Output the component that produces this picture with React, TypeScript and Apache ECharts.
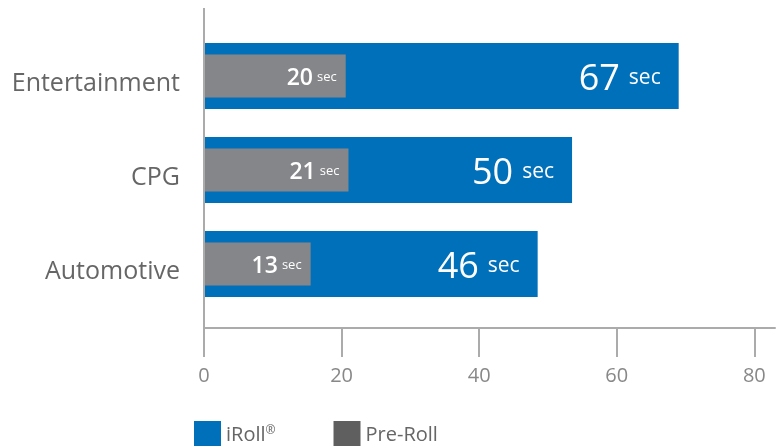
import React, { useEffect, useRef } from "react";
import * as echarts from "echarts";

const categories = ["Entertainment", "CPG", "Automotive"];
const iRollValues = [69, 53.5, 48.5];
const preRollValues = [20.6, 21, 15.5];
const iRollLabels = [67, 50, 46];
const preRollLabels = [20, 21, 13];
const xTicks = [0, 20, 40, 60, 80];

const FONT = "'Open Sans', sans-serif";
const BLUE = "#0070BA";
const GRAY = "#858689";
const AXIS = "#ababab";
const TEXT = "#666666";

export default function App() {
  const ref = useRef<HTMLDivElement>(null);
  useEffect(() => {
    if (!ref.current) return;
    const chart = echarts.init(ref.current, undefined, { renderer: "svg" });
    chart.setOption({
      animation: false,
      textStyle: { fontFamily: FONT },
      grid: { left: 204, right: 9, top: 29, bottom: 135, containLabel: false, outerBoundsMode: "none" },
      xAxis: {
        type: "value",
        min: 0,
        max: 83,
        interval: 20,
        offset: 17,
        splitLine: { show: false },
        axisLine: { show: true, lineStyle: { color: AXIS, width: 2 } },
        axisTick: { show: true, length: 29, customValues: xTicks, lineStyle: { color: AXIS, width: 2 } },
        axisLabel: { customValues: xTicks, margin: 36, color: "#888888", fontSize: 20, fontFamily: FONT },
      },
      yAxis: [
        {
          type: "category",
          inverse: true,
          data: categories,
          axisLine: { show: false },
          axisTick: { show: false },
          axisLabel: {
            margin: 24,
            color: TEXT,
            fontSize: 25,
            fontFamily: FONT,
            formatter: (v: string) => `{c|${v}}`,
            rich: { c: { fontSize: 25, color: TEXT, fontFamily: FONT, padding: [9, 0, 0, 0] } },
          },
        },
        {
          type: "category",
          inverse: true,
          data: categories,
          show: false,
        },
      ],
      legend: {
        left: 194,
        top: 421,
        padding: 0,
        itemWidth: 27,
        itemHeight: 25,
        itemGap: 58,
        icon: "rect",
        textStyle: {
          color: TEXT,
          fontSize: 20,
          fontFamily: FONT,
          rich: { sup: { fontSize: 12, verticalAlign: "top", padding: [0, 0, 9, 0], color: TEXT } },
        },
        formatter: (name: string) => (name === "iRoll" ? "iRoll{sup|®}" : name),
        data: [
          { name: "iRoll", itemStyle: { color: BLUE } },
          { name: "Pre-Roll", itemStyle: { color: "#5f5f5f" } },
        ],
      },
      graphic: [
        {
          type: "line",
          shape: { x1: 204, y1: 8, x2: 204, y2: 328 },
          style: { stroke: AXIS, lineWidth: 2 },
          z: 10,
        },
      ],
      series: [
        {
          name: "iRoll",
          type: "bar",
          yAxisIndex: 0,
          data: iRollValues,
          barWidth: 66,
          itemStyle: { color: BLUE },
          label: {
            show: true,
            position: "insideRight",
            distance: 18,
            formatter: (p: any) => `{n|${iRollLabels[p.dataIndex]}}{s|sec}`,
            rich: {
              n: { fontSize: 36, color: "#fff", fontFamily: FONT, fontWeight: 500 },
              s: { fontSize: 21, color: "#fff", fontFamily: FONT, padding: [0, 0, 0, 9] },
            },
          },
        },
        {
          name: "Pre-Roll",
          type: "bar",
          yAxisIndex: 1,
          data: preRollValues,
          barWidth: 43,
          z: 3,
          itemStyle: { color: GRAY },
          label: {
            show: true,
            position: "insideRight",
            distance: 9,
            formatter: (p: any) => `{n|${preRollLabels[p.dataIndex]}}{s|sec}`,
            rich: {
              n: { fontSize: 23, color: "#fff", fontFamily: FONT, fontWeight: 600 },
              s: { fontSize: 13, color: "#fff", fontFamily: FONT, padding: [0, 0, 0, 4] },
            },
          },
        },
      ],
    });
    return () => chart.dispose();
  }, []);
  return (
    <div
      ref={ref}
      style={{ position: "fixed", left: 0, top: 0, width: 784, height: 446 }}
    />
  );
}
